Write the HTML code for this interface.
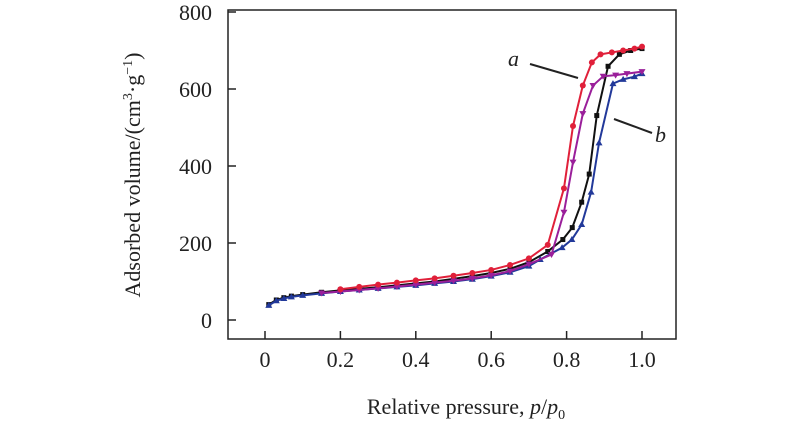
<!DOCTYPE html>
<html><head><meta charset="utf-8"><style>
body{margin:0;background:#fff;}
svg text{font-family:"Liberation Serif",serif;fill:#222;}
</style></head><body>
<svg width="800" height="442" viewBox="0 0 800 442">
<rect x="228" y="10" width="448" height="329" fill="none" stroke="#222" stroke-width="1.5"/>
<g id="axes"></g>
<g id="series"></g>
<text x="140" y="175" font-size="22" text-anchor="middle" transform="rotate(-90 140 175)">Adsorbed volume/(cm<tspan font-size="14" dy="-8">3</tspan><tspan dy="8">·g</tspan><tspan font-size="14" dy="-8">−1</tspan><tspan dy="8">)</tspan></text>
<text x="466" y="414" font-size="22" text-anchor="middle">Relative pressure, <tspan font-style="italic">p</tspan>/<tspan font-style="italic">p</tspan><tspan font-size="14" dy="5">0</tspan></text>
<text x="508" y="66" font-size="22" font-style="italic">a</text>
<line x1="530" y1="64" x2="578" y2="78" stroke="#222" stroke-width="2"/>
<text x="655" y="142" font-size="22" font-style="italic">b</text>
<line x1="614" y1="119" x2="652" y2="133" stroke="#222" stroke-width="2"/>
</svg>
<script>
const xTicks=[0,0.2,0.4,0.6,0.8,1.0];
const xTickLabels=["0","0.2","0.4","0.6","0.8","1.0"];
const yTicks=[0,200,400,600,800];
const yTickLabels=["0","200","400","600","800"];
const blackX=[0.01,0.03,0.05,0.07,0.1,0.15,0.2,0.25,0.3,0.35,0.4,0.45,0.5,0.55,0.6,0.65,0.7,0.75,0.79,0.815,0.84,0.86,0.88,0.91,0.94,0.97,1.0];
const blackY=[40,52,58,62,66,72,77,81,85,90,95,100,107,114,122,133,150,178,209,240,306,379,531,659,690,700,705];
const redX=[0.2,0.25,0.3,0.35,0.4,0.45,0.5,0.55,0.6,0.65,0.7,0.75,0.793,0.817,0.843,0.867,0.89,0.92,0.95,0.98,1.0];
const redY=[80,86,92,97,103,108,115,122,130,143,160,195,342,504,609,669,690,695,700,705,710];
const blueX=[0.01,0.03,0.05,0.07,0.1,0.15,0.2,0.25,0.3,0.35,0.4,0.45,0.5,0.55,0.6,0.65,0.7,0.73,0.788,0.814,0.84,0.865,0.886,0.923,0.95,0.98,1.0];
const blueY=[38,50,56,60,64,69,74,78,82,86,90,95,100,106,114,124,140,157,188,209,248,332,460,614,625,632,640];
const purpleX=[0.15,0.2,0.25,0.3,0.35,0.4,0.45,0.5,0.55,0.6,0.65,0.7,0.76,0.793,0.817,0.843,0.87,0.897,0.93,0.96,1.0];
const purpleY=[70,74,78,82,87,92,97,102,108,116,127,145,170,280,410,536,609,633,636,640,645];
const NS="http://www.w3.org/2000/svg";
function xs(v){return 265+v*377;}
function ys(v){return 320-v*0.385;}
const axes=document.getElementById('axes');
const ser=document.getElementById('series');
function mk(tag,attrs,parent){const e=document.createElementNS(NS,tag);for(const k in attrs)e.setAttribute(k,attrs[k]);parent.appendChild(e);return e;}
xTicks.forEach((t,i)=>{
 const l=mk('line',{x1:xs(t),x2:xs(t),y1:339,y2:331,stroke:'#222','stroke-width':1.5},axes);
 
 
 const tx=mk('text',{x:xs(t),y:367,'font-size':22,'text-anchor':'middle'},axes);
 tx.textContent=xTickLabels[i];
 
 
});
yTicks.forEach((t,i)=>{
 const l=mk('line',{x1:228,x2:236,y1:ys(t),y2:ys(t),stroke:'#222','stroke-width':1.5},axes);
 
 
 const tx=mk('text',{x:212,y:ys(t)+8,'font-size':22,'text-anchor':'end'},axes);
 tx.textContent=yTickLabels[i];
 
 
});
function marker(type,x,y,c,g){
 let e;
 if(type==='sq')e=mk('rect',{x:x-2.5,y:y-2.5,width:5,height:5,fill:c},g);
 else if(type==='ci')e=mk('circle',{cx:x,cy:y,r:3,fill:c},g);
 else if(type==='up')e=mk('polygon',{points:`${x},${y-3.5} ${x-3.5},${y+2.5} ${x+3.5},${y+2.5}`,fill:c},g);
 else e=mk('polygon',{points:`${x},${y+3.5} ${x-3.5},${y-2.5} ${x+3.5},${y-2.5}`,fill:c},g);
 
 
}
function draw(X,Y,c,type,name){
 const g=mk('g',{},ser);
 
 
 const p=mk('polyline',{points:X.map((x,i)=>xs(x)+','+ys(Y[i])).join(' '),fill:'none',stroke:c,'stroke-width':2},g);
 
 
 X.forEach((x,i)=>marker(type,xs(x),ys(Y[i]),c,g));
}
draw(blackX,blackY,'#111','sq','series-a-adsorption');
draw(blueX,blueY,'#22399a','up','series-b-adsorption');
draw(purpleX,purpleY,'#9a1f9a','dn','series-b-desorption');
draw(redX,redY,'#e0203a','ci','series-a-desorption');
</script>
</body></html>
